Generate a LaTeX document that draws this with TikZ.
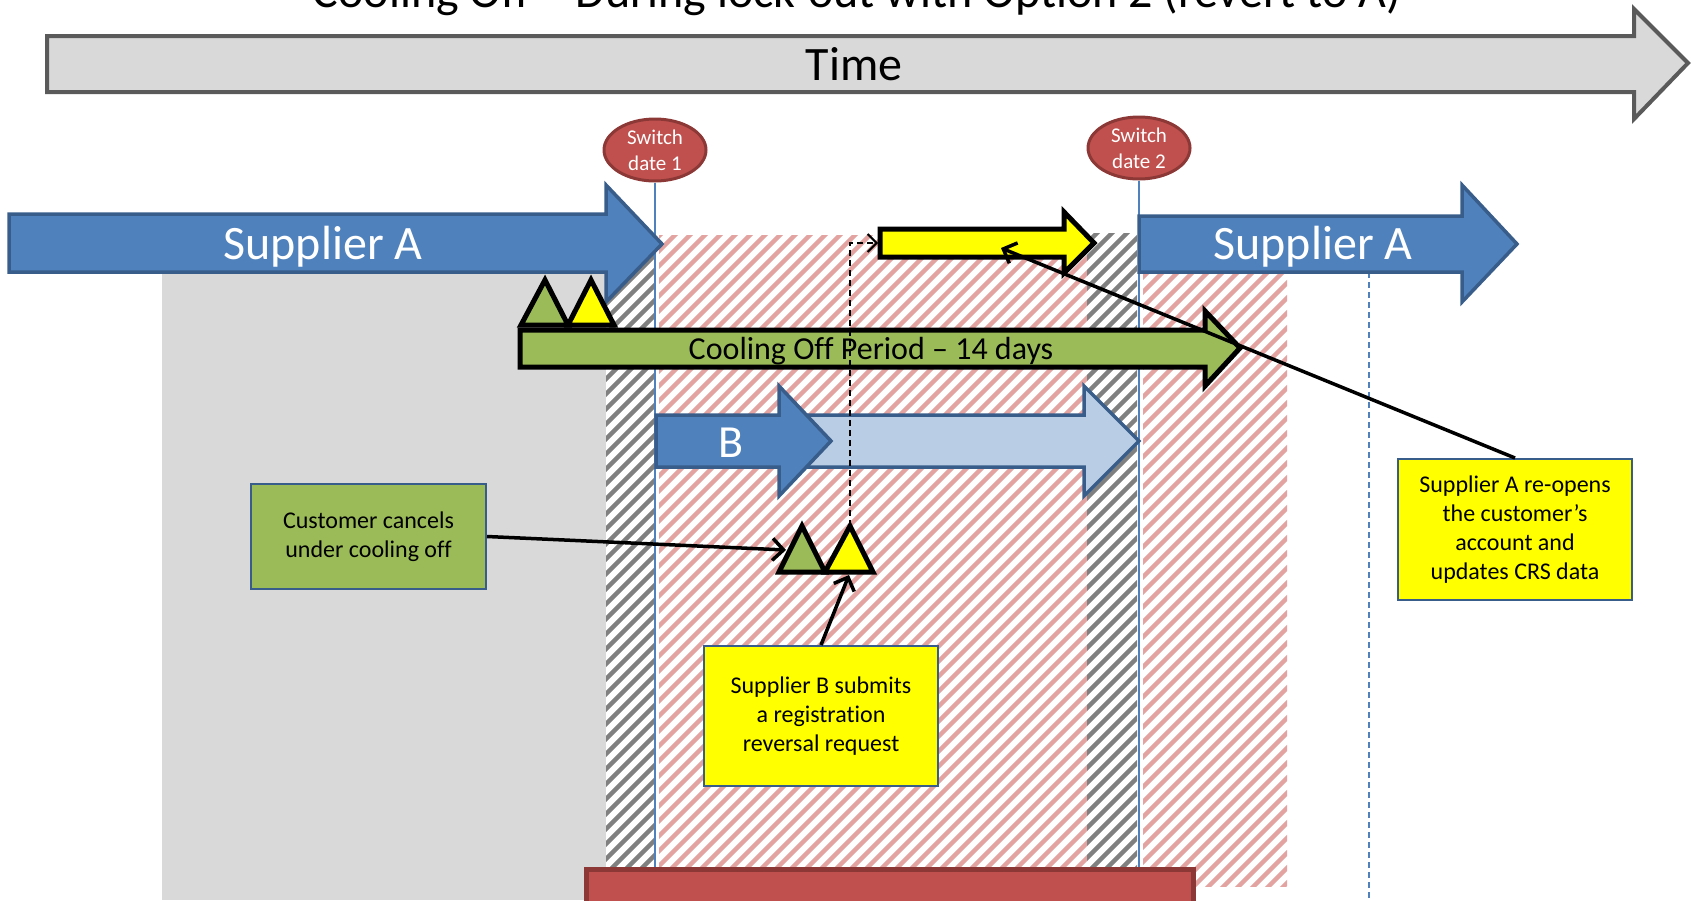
\documentclass[tikz,border=0pt]{standalone}
\usepackage{fontspec}
\setmainfont{Carlito}[Ligatures=NoCommon]
\usetikzlibrary{arrows.meta,shapes.geometric}

\definecolor{accblue}{HTML}{4F81BD}
\definecolor{accbluedk}{HTML}{385D8A}
\definecolor{lightblue}{HTML}{B9CDE5}
\definecolor{accgreen}{HTML}{9BBB59}
\definecolor{accred}{HTML}{C0504D}
\definecolor{accreddk}{HTML}{8C3836}
\definecolor{panelgray}{HTML}{D9D9D9}
\definecolor{hatchred}{HTML}{E2A3A1}
\definecolor{hatchgray}{HTML}{808080}
\definecolor{timeedge}{HTML}{5A5A5A}
\definecolor{markyellow}{HTML}{FFFF00}

% diagonal hatching inside a rectangle: x1 y1 x2 y2 colour
\newcommand\hatchbox[5]{%
  \begin{scope}
    \clip (#1,#2) rectangle (#3,#4);
    \foreach \k in {-800,-785,...,1700}
      \draw[line width=4.5, #5] (\k,900) -- ++(800,-800);
  \end{scope}}

\tikzset{
  blockblue/.style={fill=accblue, draw=accbluedk, line width=3.5, line join=miter},
  blocklight/.style={fill=lightblue, draw=accbluedk, line width=3.5, line join=miter},
  boldblock/.style={draw=black, line width=5, line join=miter},
  note/.style={rectangle, draw=accbluedk, line width=2, align=center, inner sep=0,
    font=\fontsize{24}{29}\selectfont},
  callout/.style={draw=black, line width=3.5, -{Straight Barb[length=11pt,width=22pt]}},
  switchdate/.style={ellipse, fill=accred, draw=accreddk, line width=3,
    minimum width=102, minimum height=62, inner sep=0, text=white, align=center,
    font=\fontsize{21}{26}\selectfont},
  bigwhite/.style={text=white, anchor=base, font=\fontsize{48}{58}\selectfont},
  dateline/.style={draw=accblue, line width=1.8},
}

\begin{document}
\begin{tikzpicture}[x=1pt, y=-1pt]
\useasboundingbox (0,0) rectangle (1691,900);
\clip (0,0) rectangle (1691,900);

% grey backdrop before the first switch
\fill[panelgray] (162,272) rectangle (606,900);

% lock-out periods
\hatchbox{606}{235}{655}{868}{hatchgray}
\hatchbox{659}{235}{1087}{868}{hatchred}
\hatchbox{1087}{233}{1137}{868}{hatchgray}
\hatchbox{1143}{235}{1287}{886}{hatchred}

% time axis
\draw[fill=panelgray, draw=timeedge, line width=4, line join=miter]
  (47,36) -- (1634,36) -- (1634,9) -- (1688,63) -- (1634,119) -- (1634,92) -- (47,92) -- cycle;
\node[anchor=base, font=\fontsize{48}{58}\selectfont] (time) at (854,80) {Time};
\node[anchor=base, font=\fontsize{48}{58}\selectfont] (title) at (857,7)
  {Cooling Off – During lock-out with Option 2 (revert to A)};

% switch dates
\node[switchdate] (sd1) at (655,150) {Switch\\date 1};
\node[switchdate] (sd2) at (1139,148) {Switch\\date 2};
\coordinate (sd1foot) at (655,868);
\coordinate (sd2foot) at (1139,868);
\draw[dateline] (sd1.south) -- (sd1foot);
\draw[dateline] (sd2.south) -- (sd2foot);
\coordinate (dtop) at (1369,272);
\coordinate (dfoot) at (1369,900);
\draw[dateline, dash pattern=on 6pt off 4pt] (dtop) -- (dfoot);

% Supplier A before and after
\draw[blockblue] (9,214) -- (606,214) -- (606,185) -- (662,244) -- (606,302) -- (606,272) -- (9,272) -- cycle;
\node[bigwhite] (supA1) at (323,259) {Supplier A};
\draw[blockblue] (1139,216) -- (1462,216) -- (1462,185) -- (1517,244) -- (1462,302) -- (1462,272) -- (1139,272) -- cycle;
\node[bigwhite] (supA2) at (1313,259) {Supplier A};

% reversal arrow
\draw[boldblock, fill=markyellow] (880,229) -- (1064,229) -- (1064,212) -- (1094,243) -- (1064,273) -- (1064,257) -- (880,257) -- cycle;
\coordinate (revtail) at (878,243);
\coordinate (revhit) at (1001,248);

% cooling off period
\draw[boldblock, fill=accgreen] (520,330) -- (1205,330) -- (1205,311) -- (1240,348) -- (1205,386) -- (1205,367) -- (520,367) -- cycle;
\node[anchor=base, font=\fontsize{32}{38}\selectfont] (cool) at (871,359) {Cooling Off Period – 14 days};

% markers at the start of cooling off
\draw[boldblock, fill=accgreen] (521,325) -- (568,325) -- (545,280) -- cycle;
\draw[boldblock, fill=markyellow] (568,325) -- (614,325) -- (591,280) -- cycle;

% Supplier B period
\draw[blocklight] (790,415) -- (1084,415) -- (1084,386) -- (1139,441) -- (1084,496) -- (1084,467) -- (790,467) -- cycle;
\draw[blockblue] (656,415) -- (779,415) -- (779,386) -- (831,441) -- (779,496) -- (779,467) -- (656,467) -- cycle;
\node[bigwhite, font=\fontsize{46}{56}\selectfont] (bLabel) at (731,457) {B};

% cancellation and reversal markers
\draw[boldblock, fill=accgreen] (779,572) -- (825,572) -- (802,526) -- cycle;
\draw[boldblock, fill=markyellow] (825,572) -- (873,572) -- (850,526) -- cycle;
\coordinate (gmark) at (786,550);
\coordinate (ymarkbase) at (849,575);
\coordinate (ymarktop) at (850,526);

% notes
\node[note, fill=accgreen, minimum width=235, minimum height=105] (cust) at (368.5,536.5)
  {Customer cancels\\under cooling off};
\node[note, fill=markyellow, minimum width=234, minimum height=140] (subB) at (821,716)
  {Supplier B submits\\a registration\\reversal request};
\node[note, fill=markyellow, minimum width=234, minimum height=141] (subA) at (1515,529.5)
  {Supplier A re-opens\\the customer’s\\account and\\updates CRS data};

% connectors
\draw[callout] (cust.east) -- (gmark);
\draw[callout] (subB.north) -- (ymarkbase);
\draw[callout] (subA.north) -- (revhit);
\draw[black, line width=2, dash pattern=on 6pt off 4pt, -{Straight Barb[length=9pt,width=18pt]}]
  (ymarktop) |- (revtail);

% lock-out bar
\draw[fill=accred, draw=accreddk, line width=5] (586,869) rectangle (1193,930);
\end{tikzpicture}
\end{document}
